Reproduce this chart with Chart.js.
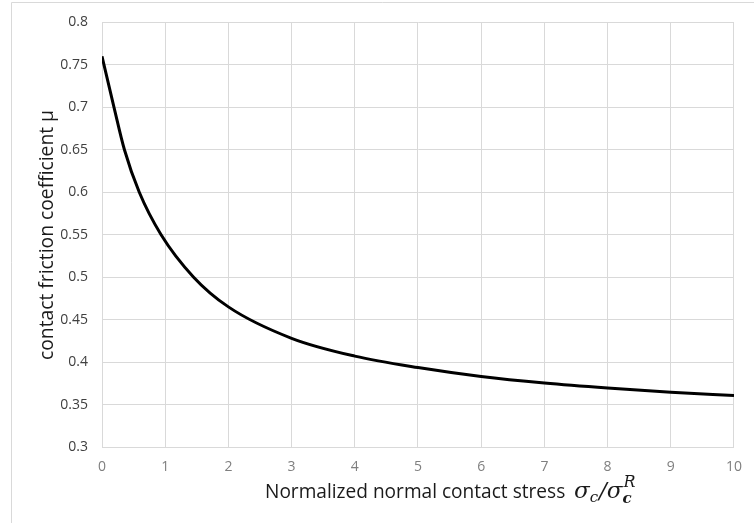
<!DOCTYPE html>
<html>
<head>
<meta charset="utf-8">
<script src="https://cdn.jsdelivr.net/npm/chart.js@4.4.1/dist/chart.umd.min.js"></script>
<style>
  html, body { margin: 0; padding: 0; background: #fff; }
  #wrap { position: relative; width: 754px; height: 523px; }
</style>
</head>
<body>
<div id="wrap"><canvas id="muChart"></canvas></div>
<script>
// values
const stressValues = [0, 0.19, 0.355, 0.59, 0.935, 1.45, 2, 3, 4, 5, 6, 7, 8, 9, 10];
const muValues = [0.76, 0.70, 0.65, 0.60, 0.55, 0.50, 0.465, 0.428, 0.407, 0.3935, 0.383, 0.3753, 0.3694, 0.3645, 0.3605];

const xTickLabels = ['0', '1', '2', '3', '4', '5', '6', '7', '8', '9', '10'];
const yTickLabels = ['0.3', '0.35', '0.4', '0.45', '0.5', '0.55', '0.6', '0.65', '0.7', '0.75', '0.8'];

const yTitle = 'contact friction coefficient μ';
const xTitle = 'Normalized normal contact stress';

const points = stressValues.map((x, i) => ({ x: x, y: muValues[i] }));

const gridColor = '#d9d9d9';
const sansFont = '"Open Sans", Lato, sans-serif';
const mathFont = '"DejaVu Serif", "Liberation Serif", serif';

// pick a font size so the text spans about the same length as in the picture
function fitFont(ctx, text, targetWidth, family) {
    ctx.font = '20px ' + family;
    const size = 20 * targetWidth / ctx.measureText(text).width;
    return size.toFixed(1) + 'px ' + family;
}

// outer frame of the figure and the two axis titles
const frameAndTitles = {
    id: 'frameAndTitles',
    beforeDraw(chart) {
        const ctx = chart.ctx;
        ctx.save();
        ctx.strokeStyle = gridColor;
        ctx.lineWidth = 1;
        ctx.beginPath();
        ctx.moveTo(11.5, 523);
        ctx.lineTo(11.5, 2.5);
        ctx.lineTo(754, 2.5);
        ctx.stroke();
        ctx.restore();
    },
    afterDraw(chart) {
        const ctx = chart.ctx;

        // y title, rotated
        ctx.save();
        ctx.fillStyle = '#1a1a1a';
        ctx.font = fitFont(ctx, yTitle, 250, sansFont);
        ctx.translate(53, 235);
        ctx.rotate(-Math.PI / 2);
        ctx.textAlign = 'center';
        ctx.textBaseline = 'alphabetic';
        ctx.fillText(yTitle, 0, 0);
        ctx.restore();

        // x title: text part then sigma_c / sigma_c^R
        ctx.save();
        ctx.fillStyle = '#1a1a1a';
        ctx.textAlign = 'left';
        ctx.textBaseline = 'alphabetic';
        const base = 498;
        ctx.font = fitFont(ctx, xTitle, 301, sansFont);
        ctx.fillText(xTitle, 265, base);
        let x = 574;
        ctx.font = 'italic 23px ' + mathFont;
        ctx.fillText('σ', x, base);
        x += ctx.measureText('σ').width;
        ctx.font = 'italic 15px ' + mathFont;
        ctx.fillText('c', x, base + 4);
        x += ctx.measureText('c').width + 1;
        ctx.font = 'italic 23px ' + mathFont;
        ctx.fillText('/', x, base);
        x += ctx.measureText('/').width;
        ctx.fillText('σ', x, base);
        x += ctx.measureText('σ').width;
        ctx.font = 'bold italic 15px ' + mathFont;
        ctx.fillText('c', x, base + 5);
        ctx.font = 'italic 16px ' + mathFont;
        ctx.fillText('R', x + 1, base - 11);
        ctx.restore();
    }
};

const ctx = document.getElementById('muChart').getContext('2d');

const config = {
    type: 'line',
    data: {
        datasets: [
            {
                label: 'mu',
                data: points,
                borderColor: '#000000',
                borderWidth: 3,
                pointRadius: 0,
                fill: false,
                cubicInterpolationMode: 'monotone'
            }
        ]
    },
    options: {
        responsive: true,
        maintainAspectRatio: false,
        animation: false,
        layout: {
            padding: { top: 19, right: 15, bottom: 0, left: 0 }
        },
        plugins: {
            legend: { display: false },
            tooltip: { enabled: false }
        },
        scales: {
            x: {
                type: 'linear',
                min: 0,
                max: 10,
                afterFit: (scale) => { scale.height = 76; },
                grid: { color: gridColor, lineWidth: 1, drawTicks: false },
                border: { color: gridColor },
                ticks: {
                    stepSize: 1,
                    padding: 12,
                    color: '#7f7f7f',
                    font: { family: sansFont, size: 14 },
                    callback: (v, i) => xTickLabels[i]
                }
            },
            y: {
                type: 'linear',
                min: 0.3,
                max: 0.8,
                afterFit: (scale) => { scale.width = 102; },
                grid: { color: gridColor, lineWidth: 1, drawTicks: false },
                border: { color: gridColor },
                ticks: {
                    stepSize: 0.05,
                    padding: 14,
                    color: '#404040',
                    font: { family: sansFont, size: 14 },
                    callback: (v, i) => yTickLabels[i]
                }
            }
        }
    },
    plugins: [frameAndTitles]
};

const muChart = new Chart(ctx, config);
</script>
</body>
</html>
